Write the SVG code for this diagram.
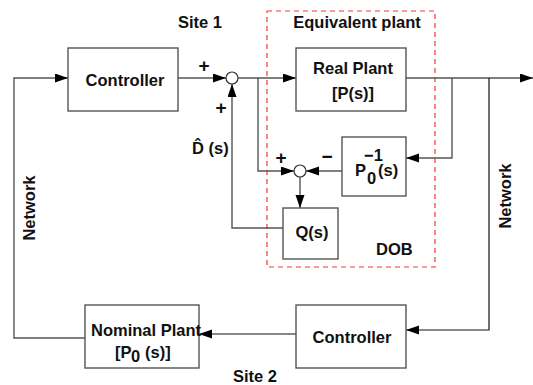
<svg xmlns="http://www.w3.org/2000/svg" width="533" height="385" viewBox="0 0 533 385">
<style>
.box{fill:#fff;stroke:#555;stroke-width:1.4}
.ln{fill:none;stroke:#555;stroke-width:1.4}
.lk{fill:none;stroke:#111;stroke-width:1.2}
.sum{fill:#fff;stroke:#333;stroke-width:1.2}
text{font-family:"Liberation Sans",Arial,sans-serif;font-weight:bold;font-size:16.5px;fill:#111}
.m{text-anchor:middle}
.pl{font-size:19px}
</style>
<defs>
<marker id="ah" markerUnits="userSpaceOnUse" markerWidth="14" markerHeight="10" refX="13" refY="4.5" orient="auto">
<path d="M0,0 L13,4.5 L0,9 z" fill="#000"/>
</marker>
</defs>
<rect x="267" y="11" width="168" height="256" fill="none" stroke="#f33" stroke-width="1.2" stroke-dasharray="5,4"/>
<g id="connectors">
<path class="ln" d="M178,78 H226" marker-end="url(#ah)"/>
<path class="ln" d="M238,78 H296" marker-end="url(#ah)"/>
<path class="ln" d="M258,78 V171 H294" marker-end="url(#ah)"/>
<path class="ln" d="M342,171 H306" marker-end="url(#ah)"/>
<path class="ln" d="M300,177 V208" marker-end="url(#ah)"/>
<path class="ln" d="M283,228 H232 V84" marker-end="url(#ah)"/>
<path class="ln" d="M406,78 H533" marker-end="url(#ah)"/>
<path class="ln" d="M452,78 V158 H406" marker-end="url(#ah)"/>
<path class="lk" d="M489,78 V330 H406" marker-end="url(#ah)"/>
<path class="lk" d="M296,334 H199" marker-end="url(#ah)"/>
<path class="ln" d="M85,338 H14 V78 H68" marker-end="url(#ah)"/>
</g>
<g id="controller1"><rect class="box" x="68" y="48" width="110" height="63"/><text class="m" x="125" y="86">Controller</text></g>
<g id="sum1"><circle class="sum" cx="232" cy="78" r="6"/></g>
<g id="realplant"><rect class="box" x="296" y="48" width="110" height="63"/><text class="m" x="353" y="74">Real Plant</text><text class="m" x="353" y="99">[P(s)]</text></g>
<g id="sum2"><circle class="sum" cx="300" cy="171" r="6"/></g>
<g id="p0inv"><rect class="box" x="342" y="137" width="64" height="59"/><text x="355" y="176">P</text><text x="364" y="161" font-size="14">−1</text><text x="367" y="184" font-size="13">0</text><text x="378" y="176">(s)</text></g>
<g id="qs"><rect class="box" x="283" y="208" width="55" height="51"/><text class="m" x="312" y="238">Q(s)</text></g>
<g id="controller2"><rect class="box" x="296" y="305" width="110" height="63"/><text class="m" x="352" y="343">Controller</text></g>
<g id="nominal"><rect class="box" x="85" y="305" width="114" height="63"/><text class="m" x="146" y="336">Nominal Plant</text><text x="115" y="358">[P</text><text x="131" y="362" font-size="13">0</text><text x="145" y="358">(s)]</text></g>
<g id="labels">
<text x="178" y="28">Site 1</text>
<text class="m" x="357" y="28">Equivalent plant</text>
<text x="376" y="255">DOB</text>
<text x="233" y="382">Site 2</text>
<text class="m pl" x="204" y="72">+</text>
<text class="m pl" x="221" y="114">+</text>
<text class="m pl" x="281" y="164">+</text>
<text class="m pl" x="327" y="163">−</text>
<text x="192" y="154">D̂ (s)</text>
<text class="m" transform="translate(35,208) rotate(-90)">Network</text>
<text class="m" transform="translate(511,196) rotate(-90)">Network</text>
</g>
</svg>
